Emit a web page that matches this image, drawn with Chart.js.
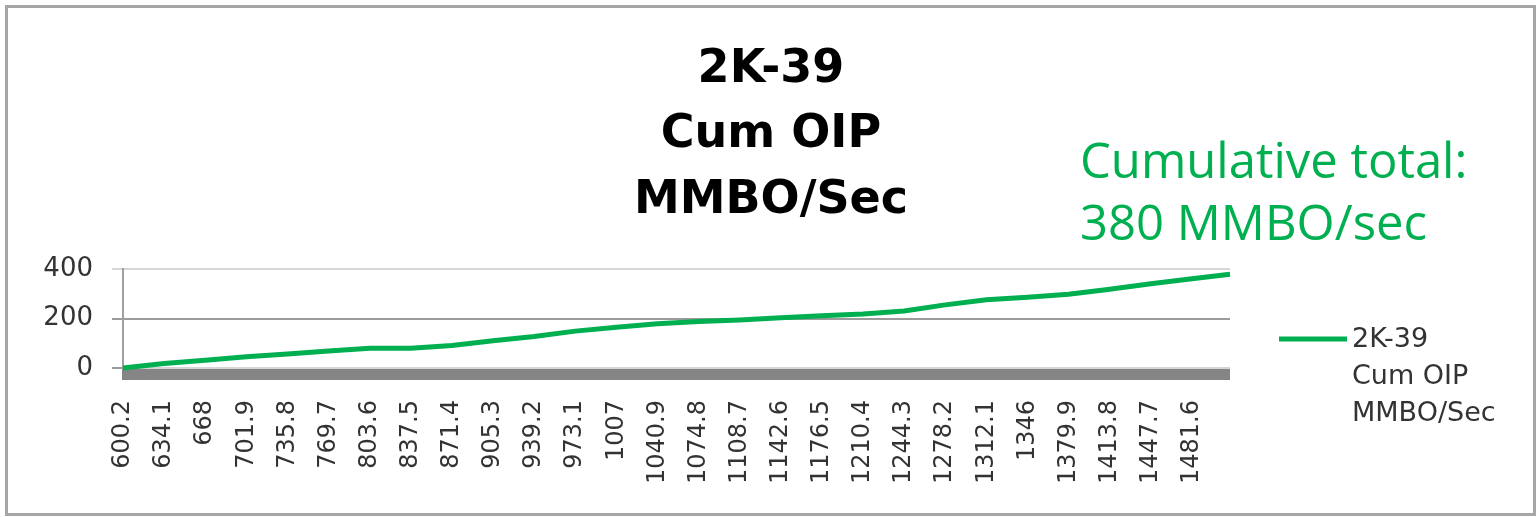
<!DOCTYPE html>
<html>
<head>
<meta charset="utf-8">
<script src="https://cdn.jsdelivr.net/npm/chart.js@4.4.1/dist/chart.umd.min.js"></script>
<style>
  html, body { margin: 0; padding: 0; background: #fff; }
  #wrap { position: relative; width: 1538px; height: 517px; }
</style>
</head>
<body>
<div id="wrap"><canvas id="oipChart" width="1538" height="517"></canvas></div>
<script>
// Etiquetas del eje X (profundidad)
const depthTicks = [600.2, 634.1, 668, 701.9, 735.8, 769.7, 803.6, 837.5, 871.4, 905.3, 939.2, 973.1, 1007,
  1040.9, 1074.8, 1108.7, 1142.6, 1176.5, 1210.4, 1244.3, 1278.2, 1312.1, 1346, 1379.9, 1413.8, 1447.7, 1481.6];

// Serie: profundidad y OIP acumulado (MMBO)
const depth = [600.2, 634.1, 668, 701.9, 735.8, 769.7, 803.6, 837.5, 871.4, 905.3, 939.2, 973.1, 1007,
  1040.9, 1074.8, 1108.7, 1142.6, 1176.5, 1210.4, 1244.3, 1278.2, 1312.1, 1346, 1379.9, 1413.8, 1447.7, 1481.6, 1513];
const cumOip = [0, 18, 31, 45, 57, 69, 80, 80, 91, 110, 127, 149, 165,
  179, 188, 194, 203, 211, 218, 230, 255, 276, 286, 298, 318, 340, 361, 379];

const yTicks = [0, 200, 400];
const titleLines = ['2K-39', 'Cum OIP', 'MMBO/Sec'];
const noteLines = ['Cumulative total:', '380 MMBO/sec'];

const green = '#00b050';

// Marco, suelo gris, título, leyenda y nota
const decorations = {
  id: 'decorations',
  beforeDraw(chart) {
    const ctx = chart.ctx;
    ctx.save();
    ctx.fillStyle = '#fff';
    ctx.fillRect(0, 0, chart.width, chart.height);
    ctx.strokeStyle = '#a6a6a6';
    ctx.lineWidth = 3;
    ctx.strokeRect(6.5, 6.5, 1528, 508);
    ctx.restore();
  },
  beforeDatasetsDraw(chart) {
    const ctx = chart.ctx;
    const a = chart.chartArea;
    ctx.save();
    ctx.fillStyle = '#858585';
    ctx.fillRect(a.left - 1, a.bottom + 1, a.right - a.left + 1, 11);
    ctx.restore();
  },
  afterDraw(chart) {
    const ctx = chart.ctx;
    const a = chart.chartArea;
    ctx.save();

    // título
    ctx.fillStyle = '#000';
    ctx.textAlign = 'center';
    ctx.textBaseline = 'alphabetic';
    ctx.font = 'bold 46px "DejaVu Sans"';
    [82, 147, 213].forEach((y, i) => ctx.fillText(titleLines[i], 771, y));

    // leyenda
    const ly = 339;
    ctx.strokeStyle = green;
    ctx.lineWidth = 5;
    ctx.beginPath();
    ctx.moveTo(a.right + 49, ly);
    ctx.lineTo(a.right + 117, ly);
    ctx.stroke();
    ctx.fillStyle = '#333';
    ctx.textAlign = 'left';
    ctx.font = '27px "DejaVu Sans"';
    [347, 384, 421].forEach((y, i) => ctx.fillText(titleLines[i], a.right + 122, y));

    // nota
    ctx.fillStyle = green;
    ctx.font = '49px "Open Sans"';
    [178, 240].forEach((y, i) => ctx.fillText(noteLines[i], 1080, y));
    ctx.restore();
  }
};

const ctx = document.getElementById('oipChart').getContext('2d');
const oipChart = new Chart(ctx, {
  type: 'line',
  data: {
    datasets: [{
      label: titleLines.join(' '),
      data: depth.map((d, i) => ({ x: d, y: cumOip[i] })),
      borderColor: green,
      backgroundColor: green,
      borderWidth: 5,
      pointRadius: 0,
      tension: 0,
      fill: false,
      clip: false
    }]
  },
  options: {
    responsive: false,
    animation: false,
    layout: { padding: { top: 269, right: 308, bottom: 0, left: 0 } },
    plugins: {
      legend: { display: false },
      title: { display: false },
      tooltip: { enabled: true }
    },
    scales: {
      x: {
        type: 'linear',
        min: depthTicks[0],
        max: depth[depth.length - 1],
        afterBuildTicks: s => { s.ticks = depthTicks.map(v => ({ value: v })); },
        afterFit: s => { s.height = 149; },
        grid: { display: false, drawTicks: false },
        border: { display: false },
        ticks: {
          autoSkip: false,
          minRotation: 90,
          maxRotation: 90,
          padding: 32,
          color: '#333',
          font: { family: 'DejaVu Sans', size: 24 },
          callback: v => String(v)
        }
      },
      y: {
        min: yTicks[0],
        max: yTicks[yTicks.length - 1],
        afterBuildTicks: s => { s.ticks = yTicks.map(v => ({ value: v })); },
        afterFit: s => { s.width = 123; },
        grid: {
          color: c => (c.tick && c.tick.value === 200) ? '#9b9b9b' : '#d6d6d6',
          tickColor: c => (c.tick && c.tick.value === 400) ? '#d6d6d6' : '#9b9b9b',
          lineWidth: 2,
          tickLength: 11
        },
        border: { color: '#a0a0a0', width: 2 },
        ticks: {
          padding: 19,
          color: '#333',
          font: { family: 'DejaVu Sans', size: 26 }
        }
      }
    }
  },
  plugins: [decorations]
});
</script>
</body>
</html>
